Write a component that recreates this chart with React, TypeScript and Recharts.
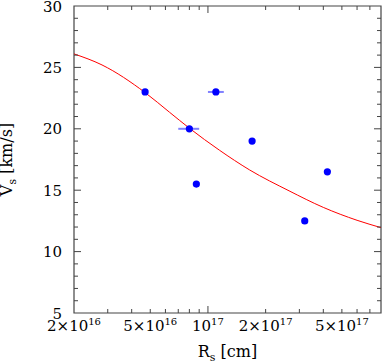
import { ComposedChart, Line, Scatter, XAxis, YAxis, ErrorBar, ReferenceArea } from "recharts";

// model curve
const curveR = [2e16, 2.8e16, 4.7e16, 6.3e16, 8e16, 1.15e17, 1.65e17, 2.65e17, 4e17, 6e17, 8e17];
const curveV = [26.1, 25.2, 22.95, 21.35, 20.05, 18.25, 16.65, 14.95, 13.6, 12.55, 11.95];

// observed points
const obsR = [4.7e16, 1.1e17, 8e16, 8.7e16, 1.7e17, 4.2e17, 3.2e17];
const obsV = [23, 23, 20, 15.5, 19, 16.5, 12.5];
const obsErrLo = [0, 1e16, 1e16, 0, 0, 0, 0];
const obsErrHi = [0, 1.1e16, 1e16, 0, 0, 0, 0];

const xLabelTicks = [2e16, 5e16, 1e17, 2e17, 5e17];
const xMinorTicks = [3e16, 4e16, 5e16, 6e16, 7e16, 8e16, 9e16, 2e17, 3e17, 4e17, 5e17, 6e17, 7e17];
const xMajorTicks = [1e17];
const yLabelTicks = [5, 10, 15, 20, 25, 30];
const yMinorTicks = [6, 7, 8, 9, 11, 12, 13, 14, 16, 17, 18, 19, 21, 22, 23, 24, 26, 27, 28, 29];
const yMajorTicks = [10, 15, 20, 25];

const curve = curveR.map((r, i) => ({ r, v: curveV[i] }));
const obs = obsR.map((r, i) => ({ r, v: obsV[i], err: [obsErrLo[i], obsErrHi[i]] }));

const allX = Array.from(new Set([...xLabelTicks, ...xMinorTicks, ...xMajorTicks])).sort((a, b) => a - b);
const allY = Array.from(new Set([...yLabelTicks, ...yMinorTicks, ...yMajorTicks])).sort((a, b) => a - b);

const FONT = "DejaVu Serif";
const FRAME = "#444";
const W = 382;
const H = 363;
const MARGIN = { top: 6, right: 1, bottom: 0, left: 0 };
const Y_AXIS_W = 74;
const X_AXIS_H = 50;
const PLOT_W = W - Y_AXIS_W - MARGIN.right;
const PLOT_H = H - X_AXIS_H - MARGIN.top;
const X_DOMAIN = [2e16, 8e17];
const Y_DOMAIN = [5, 30];

function tickLen(v: number, major: number[], minor: number[]) {
    if (major.includes(v)) return 7;
    if (minor.includes(v)) return 4;
    return 0;
}

// bottom axis: inward ticks on bottom and top edges + labels
function XTick({ x, y, payload }: any) {
    const v = payload.value;
    const len = tickLen(v, xMajorTicks, xMinorTicks);
    const top = y - PLOT_H;
    const e = Math.floor(Math.log10(v) + 1e-9);
    const m = Math.round(v / 10 ** e);
    return (
        <g>
            {len > 0 && <line x1={x} x2={x} y1={y} y2={y - len} stroke={FRAME} />}
            {len > 0 && <line x1={x} x2={x} y1={top} y2={top + len} stroke={FRAME} />}
            {xLabelTicks.includes(v) && (
                <text x={x} y={y + 18} textAnchor="middle" fontFamily={FONT} fontSize={15} fill="#000">
                    {m === 1 ? "10" : `${m}×10`}
                    <tspan dy={-6} fontSize={10}>{e}</tspan>
                </text>
            )}
        </g>
    );
}

// left axis: inward ticks on left and right edges + labels
function YTick({ x, y, payload }: any) {
    const v = payload.value;
    const len = tickLen(v, yMajorTicks, yMinorTicks);
    const right = x + PLOT_W;
    return (
        <g>
            {len > 0 && <line x1={x} x2={x + len} y1={y} y2={y} stroke={FRAME} />}
            {len > 0 && <line x1={right} x2={right - len} y1={y} y2={y} stroke={FRAME} />}
            {yLabelTicks.includes(v) && (
                <text x={x - 12} y={y + 5.5} textAnchor="end" fontFamily={FONT} fontSize={15} fill="#000">
                    {v}
                </text>
            )}
        </g>
    );
}

export default function App() {
    const midY = MARGIN.top + PLOT_H / 2;
    const midX = Y_AXIS_W + PLOT_W / 2;
    return (
        <div style={{ position: "absolute", left: 0, top: 0 }}>
            <ComposedChart width={W} height={H} margin={MARGIN}>
                <XAxis
                    xAxisId="b"
                    dataKey="r"
                    type="number"
                    scale="log"
                    domain={X_DOMAIN}
                    allowDataOverflow
                    ticks={allX}
                    interval={0}
                    height={X_AXIS_H}
                    tickLine={false}
                    tickSize={0}
                    tickMargin={0}
                    axisLine={false}
                    tick={<XTick />}
                />
                <YAxis
                    yAxisId="l"
                    type="number"
                    domain={Y_DOMAIN}
                    allowDataOverflow
                    ticks={allY}
                    interval={0}
                    width={Y_AXIS_W}
                    tickLine={false}
                    tickSize={0}
                    tickMargin={0}
                    axisLine={false}
                    tick={<YTick />}
                />
                <ReferenceArea
                    xAxisId="b"
                    yAxisId="l"
                    x1={X_DOMAIN[0]}
                    x2={X_DOMAIN[1]}
                    y1={Y_DOMAIN[0]}
                    y2={Y_DOMAIN[1]}
                    fill="none"
                    stroke={FRAME}
                    strokeWidth={1.2}
                />
                <Line
                    xAxisId="b"
                    yAxisId="l"
                    data={curve}
                    dataKey="v"
                    type="monotone"
                    stroke="#ff0000"
                    strokeWidth={1}
                    dot={false}
                    activeDot={false}
                    isAnimationActive={false}
                />
                <Scatter
                    xAxisId="b"
                    yAxisId="l"
                    data={obs}
                    dataKey="v"
                    fill="#0000ff"
                    shape={(p: any) => <circle cx={p.cx} cy={p.cy} r={3.6} fill="#0000ff" />}
                    isAnimationActive={false}
                >
                    <ErrorBar dataKey="err" direction="x" width={0} stroke="#8080ff" strokeWidth={2} />
                </Scatter>
                <text x={midX} y={H - 6} textAnchor="middle" fontFamily={FONT} fontSize={16} fill="#000">
                    R<tspan dy={4} fontSize={11}>s</tspan>
                    <tspan dy={-4}> [cm]</tspan>
                </text>
                <text x={12} y={midY} transform={`rotate(-90 12 ${midY})`} textAnchor="middle" fontFamily={FONT} fontSize={16} fill="#000">
                    V<tspan dy={4} fontSize={11}>s</tspan>
                    <tspan dy={-4}> [km/s]</tspan>
                </text>
            </ComposedChart>
        </div>
    );
}
